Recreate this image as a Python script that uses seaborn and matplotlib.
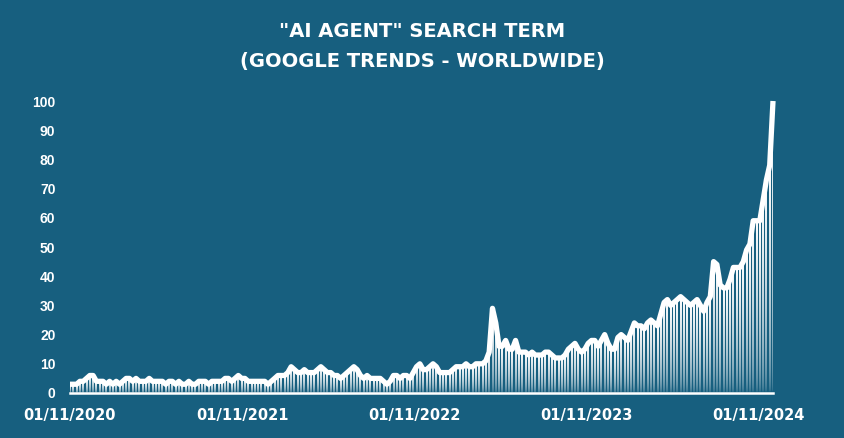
import numpy as np
import pandas as pd
import matplotlib
matplotlib.use("Agg")
import matplotlib.pyplot as plt
import matplotlib.dates as mdates
from matplotlib.colors import LinearSegmentedColormap
import seaborn as sns

# Data: weekly Google Trends interest for "AI agent", worldwide
start_week = "2020-11-01"
interest = [
    # Nov 2020 - Oct 2021
    3, 3, 3, 4, 4, 5, 6, 6, 4, 4, 4, 3, 4, 3, 4, 3, 4, 5, 5, 4,
    5, 4, 4, 4, 5, 4, 4, 4, 4, 3, 4, 4, 3, 4, 3, 3, 4, 3, 3, 4,
    4, 4, 3, 4, 4, 4, 4, 5, 5, 4, 5, 6, 5,
    # Nov 2021 - Oct 2022
    5, 4, 4, 4, 4, 4, 4, 3, 4, 5, 6, 6, 6, 7, 9, 8, 7, 7, 8, 7,
    7, 7, 8, 9, 8, 7, 7, 6, 6, 5, 6, 7, 8, 9, 8, 6, 5, 6, 5, 5,
    5, 5, 4, 3, 4, 6, 6, 5, 6, 6, 5, 7, 9,
    # Nov 2022 - Oct 2023
    10, 8, 8, 9, 10, 9, 7, 7, 7, 7, 8, 9, 9, 9, 10, 9, 9, 10, 10, 10,
    11, 14, 29, 24, 16, 16, 18, 15, 15, 18, 14, 14, 14, 13, 14, 13, 13, 13, 14, 14,
    13, 12, 12, 12, 13, 15, 16, 17, 15, 14, 15, 17,
    # Nov 2023 - Dec 2024
    18, 18, 16, 18, 20, 17, 15, 15, 19, 20, 19, 18, 21, 24, 23, 23, 22, 24, 25, 24,
    23, 27, 31, 32, 30, 31, 32, 33, 32, 31, 30, 31, 32, 30, 28, 31, 33,
    45, 44, 37, 36, 36, 39, 43, 43, 43, 45, 49, 51, 59, 59, 59, 66, 73, 78, 100,
]
tick_dates = ["2020-11-01", "2021-11-01", "2022-11-01", "2023-11-01", "2024-11-01"]
y_ticks = [0, 10, 20, 30, 40, 50, 60, 70, 80, 90, 100]
title_1 = "\"AI AGENT\" SEARCH TERM"
title_2 = "(GOOGLE TRENDS - WORLDWIDE)"

BG = "#175f7f"
WHITE = "#ffffff"

sns.set_theme(style="white")
plt.rcParams["font.family"] = ["DejaVu Sans"]

df = pd.DataFrame({
    "week": pd.date_range(start_week, periods=len(interest), freq="7D"),
    "interest": interest,
})

fig = plt.figure(figsize=(8.44, 4.38), dpi=100, facecolor=BG)
ax = fig.add_axes([70 / 844, 45 / 438, 703 / 844, 292 / 438])
ax.set_facecolor(BG)

# thin bars, each filled with a fade from white (top) into the background
bars = ax.bar(df["week"], df["interest"], width=4, color="none", linewidth=0, zorder=2)
fade = LinearSegmentedColormap.from_list("fade", [BG, WHITE])
grad = np.linspace(0, 1, 128) ** 0.45
grad = grad.reshape(-1, 1)
for b in bars:
    x0, w, h = b.get_x(), b.get_width(), b.get_height()
    ax.imshow(grad, extent=[x0, x0 + w, 0, h], origin="lower", cmap=fade,
              aspect="auto", interpolation="bilinear", zorder=2)

sns.lineplot(data=df, x="week", y="interest", color=WHITE, linewidth=3.8,
             solid_joinstyle="round", solid_capstyle="butt", clip_on=False,
             zorder=3, ax=ax)

ax.set_xlim(df["week"].iloc[0], df["week"].iloc[-1])
ax.set_ylim(0, 100)
ax.set_xlabel("")
ax.set_ylabel("")

ax.set_xticks(pd.to_datetime(tick_dates))
ax.xaxis.set_major_formatter(mdates.DateFormatter("%d/%m/%Y"))
ax.set_yticks(y_ticks)

for s in ["top", "right", "left"]:
    ax.spines[s].set_visible(False)
ax.spines["bottom"].set_color(WHITE)
ax.spines["bottom"].set_linewidth(1.8)
ax.spines["bottom"].set_zorder(4)

ax.tick_params(axis="x", colors=WHITE, direction="out", length=3.6, width=1.5,
               pad=7, labelsize=10.5)
ax.tick_params(axis="y", colors=WHITE, length=0, pad=10.5, labelsize=10)
for lbl in ax.get_xticklabels():
    lbl.set_fontweight("bold")
for lbl in ax.get_yticklabels():
    lbl.set_fontweight("bold")
    lbl.set_family(["Liberation Sans", "DejaVu Sans"])
ax.grid(False)

fig.text(0.5, 1 - 31.5 / 438, title_1, ha="center", va="center", color=WHITE,
         fontsize=14, fontweight="bold")
fig.text(0.5, 1 - 61 / 438, title_2, ha="center", va="center", color=WHITE,
         fontsize=14, fontweight="bold")

plt.savefig("out.png", dpi=100, facecolor=BG)
plt.close()
